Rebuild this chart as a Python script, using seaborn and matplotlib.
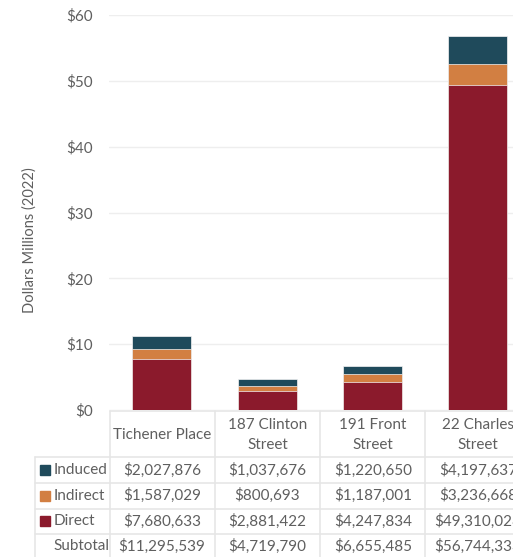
import matplotlib
matplotlib.use("Agg")
import matplotlib.pyplot as plt
import seaborn as sns
import numpy as np
import pandas as pd
from matplotlib.lines import Line2D
from matplotlib.patches import Rectangle

categories = ["Tichener Place", "187 Clinton\nStreet", "191 Front\nStreet", "22 Charles\nStreet"]
induced = [2027876, 1037676, 1220650, 4197637]
indirect = [1587029, 800693, 1187001, 3236668]
direct = [7680633, 2881422, 4247834, 49310028]
subtotal = [11295539, 4719790, 6655485, 56744333]
yticks = [0, 10, 20, 30, 40, 50, 60]

C_IND = "#1f4a5b"
C_INDIR = "#d27f42"
C_DIR = "#8b1a2c"
TXT = "#5f5f5f"
LINE = "#e6e6e6"

sns.set_theme(style="white")
plt.rcParams["font.family"] = ["Lato", "DejaVu Sans"]

W, H = 513, 557
fig = plt.figure(figsize=(W / 100, H / 100), dpi=100)

def fx(x):
    return x / W

def fy(y):
    return 1 - y / H

ax_left, ax_right = 109, 530.5
ax_top, ax_bot = 15, 410
ax = fig.add_axes([fx(ax_left), fy(ax_bot), (ax_right - ax_left) / W, (ax_bot - ax_top) / H])

df = pd.DataFrame({
    "cat": categories,
    "direct": np.array(direct) / 1e6,
    "indirect": np.array(indirect) / 1e6,
    "induced": np.array(induced) / 1e6,
})
df["lvl2"] = df["direct"] + df["indirect"]
df["lvl3"] = df["lvl2"] + df["induced"]

for col, c in [("lvl3", C_IND), ("lvl2", C_INDIR), ("direct", C_DIR)]:
    sns.barplot(data=df, x="cat", y=col, color=c, width=0.56, ax=ax,
                edgecolor="#f4f4f4", linewidth=0.5, saturation=1, errorbar=None)

ax.set_ylim(0, 60)
ax.set_xlim(-0.5, 3.5)
ax.set_yticks(yticks)
ax.set_yticklabels([f"${v}" for v in yticks], color=TXT, fontsize=11)
ax.tick_params(axis="y", length=0, pad=11.5)
ax.set_xticks([])
ax.set_xlabel("")
ax.set_ylabel("")
for s in ax.spines.values():
    s.set_visible(False)
ax.yaxis.grid(True, color="#eeeeee", linewidth=1)
ax.set_axisbelow(True)

fig.text(fx(30), fy(240), "Dollars Millions (2022)", rotation=90, ha="center", va="center",
         color=TXT, fontsize=10.5)

# table
col_edges = [109.5 + i * 105.3 for i in range(5)]
row_edges = [411, 457, 483, 508.5, 534, 560]
label_left = 35

def hline(y, x0, x1):
    fig.add_artist(Line2D([fx(x0), fx(x1)], [fy(y), fy(y)], color=LINE, lw=1.2,
                          transform=fig.transFigure))

def vline(x, y0, y1):
    fig.add_artist(Line2D([fx(x), fx(x)], [fy(y0), fy(y1)], color=LINE, lw=1.2,
                          transform=fig.transFigure))

hline(row_edges[0], col_edges[0], 540)
for y in row_edges[1:5]:
    hline(y, label_left, 540)
vline(label_left, row_edges[1], 560)
for x in col_edges:
    vline(x, row_edges[0], 560)

FS = 11
for i, cat in enumerate(categories):
    cx = (col_edges[i] + col_edges[i + 1]) / 2
    fig.text(fx(cx), fy((row_edges[0] + row_edges[1]) / 2 + 1), cat, ha="center", va="center",
             color=TXT, fontsize=FS, linespacing=1.5)

rows = [("Induced", induced, C_IND), ("Indirect", indirect, C_INDIR),
        ("Direct", direct, C_DIR), ("Subtotal", subtotal, None)]
for r, (name, vals, c) in enumerate(rows):
    cy = (row_edges[r + 1] + row_edges[r + 2]) / 2
    if r == 3:
        cy = 546
    if c is not None:
        fig.add_artist(Rectangle((fx(40), fy(cy + 5)), 10 / W, 10 / H, color=c,
                                 transform=fig.transFigure))
    fig.text(fx(53.5), fy(cy), name, ha="left", va="center", color=TXT, fontsize=FS)
    for i, v in enumerate(vals):
        cx = (col_edges[i] + col_edges[i + 1]) / 2
        fig.text(fx(cx), fy(cy), f"${v:,}", ha="center", va="center", color=TXT, fontsize=FS)

fig.savefig("out.png", dpi=100)
